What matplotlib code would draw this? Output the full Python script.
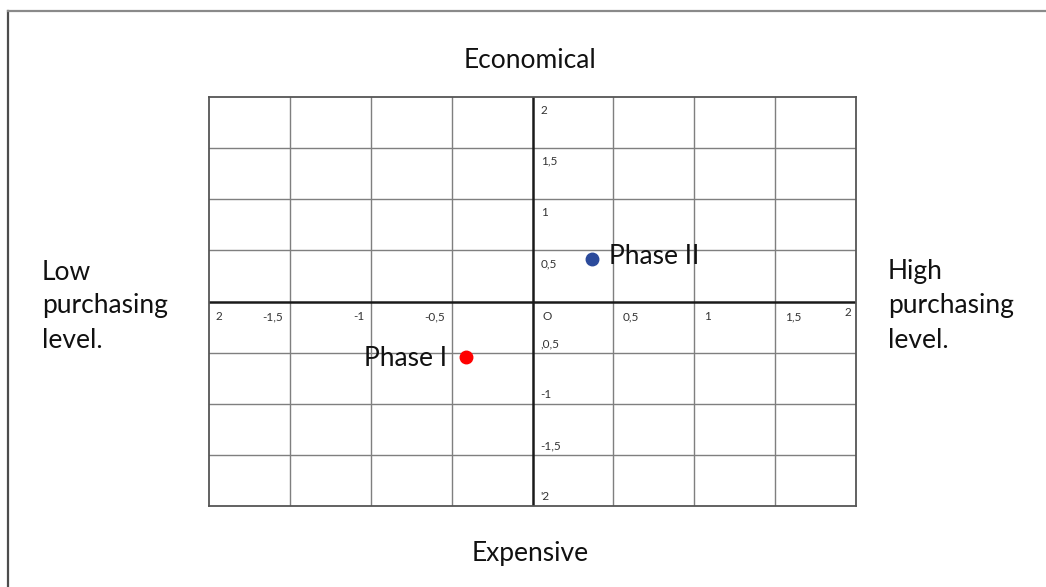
import matplotlib
matplotlib.use("Agg")
import matplotlib.pyplot as plt
from matplotlib.lines import Line2D

# ---- data ----
phase_names = ["Phase I", "Phase II"]
phase_x = [-0.41, 0.37]
phase_y = [-0.54, 0.42]
phase_colors = ["#ff0000", "#2b4a9b"]

x_tick_values = [-2, -1.5, -1, -0.5, 0, 0.5, 1, 1.5, 2]
x_tick_labels = ["2", "-1,5", "-1", "-0,5", "O", "0,5", "1", "1,5", "2"]
y_tick_values = [2, 1.5, 1, 0.5, -0.5, -1, -1.5, -2]
y_tick_labels = ["2", "1,5", "1", "0,5", ",0,5", "-1", "-1,5", "'2"]

top_label = "Economical"
bottom_label = "Expensive"
left_label = "Low\npurchasing\nlevel."
right_label = "High\npurchasing\nlevel."

plt.rcParams['font.family'] = ['Lato', 'DejaVu Sans']

W, H = 1046, 587
fig = plt.figure(figsize=(W / 100, H / 100), dpi=100)

# outer frame (left and top edges visible)
fig.add_artist(Line2D([8 / W, 8 / W], [0, 1 - 10.5 / H], transform=fig.transFigure,
                      color="#4d4d4d", lw=1.6))
fig.add_artist(Line2D([8 / W, 1], [1 - 10.5 / H, 1 - 10.5 / H], transform=fig.transFigure,
                      color="#8a8a8a", lw=1.6))

ax = fig.add_axes([209 / W, 1 - 506 / H, 647 / W, 409 / H])
ax.set_xlim(-2, 2)
ax.set_ylim(-2, 2)
ax.set_xticks([])
ax.set_yticks([])
for s in ax.spines.values():
    s.set_color("#555555")
    s.set_linewidth(1.3)

grid_vals = [-1.5, -1, -0.5, 0.5, 1, 1.5]
for v in grid_vals:
    ax.axvline(v, color="#7f7f7f", lw=1.0, zorder=1)
    ax.axhline(v, color="#7f7f7f", lw=1.0, zorder=1)
ax.axvline(0, color="#1a1a1a", lw=1.8, zorder=2)
ax.axhline(0, color="#1a1a1a", lw=1.8, zorder=2)

tick_fs = 8.5
tick_col = "#333333"
# x tick labels along the horizontal axis
for v, lab in zip(x_tick_values, x_tick_labels):
    if v == -2:
        ax.text(v + 0.04, -0.15, lab, ha="left", va="center", fontsize=tick_fs, color=tick_col)
    elif v == 2:
        ax.text(v - 0.03, -0.11, lab, ha="right", va="center", fontsize=tick_fs, color=tick_col)
    elif v < 0:
        ax.text(v - 0.04, -0.15, lab, ha="right", va="center", fontsize=tick_fs, color=tick_col)
    else:
        ax.text(v + 0.06, -0.15, lab, ha="left", va="center", fontsize=tick_fs, color=tick_col)

# y tick labels along the vertical axis
for v, lab in zip(y_tick_values, y_tick_labels):
    yy = v - 0.13 if v > 0 else v + 0.09
    ax.text(0.05, yy, lab, ha="left", va="center", fontsize=tick_fs, color=tick_col)

# points
for name, x, y, c in zip(phase_names, phase_x, phase_y, phase_colors):
    ax.plot([x], [y], "o", color=c, markersize=9, zorder=5)
    if x < 0:
        ax.text(x - 0.12, y - 0.02, name, ha="right", va="center", fontsize=19, color="#111111", zorder=6)
    else:
        ax.text(x + 0.1, y + 0.02, name, ha="left", va="center", fontsize=19, color="#111111", zorder=6)

# outer labels
big = 19
fig.text(530 / W, 1 - 60 / H, top_label, ha="center", va="center", fontsize=big, color="#111111")
fig.text(530 / W, 1 - 553 / H, bottom_label, ha="center", va="center", fontsize=big, color="#111111")
fig.text(42 / W, 1 - 306 / H, left_label, ha="left", va="center", fontsize=big, color="#111111",
         linespacing=1.45)
fig.text(888 / W, 1 - 306 / H, right_label, ha="left", va="center", fontsize=big, color="#111111",
         linespacing=1.45)

fig.savefig("out.png", dpi=100)
